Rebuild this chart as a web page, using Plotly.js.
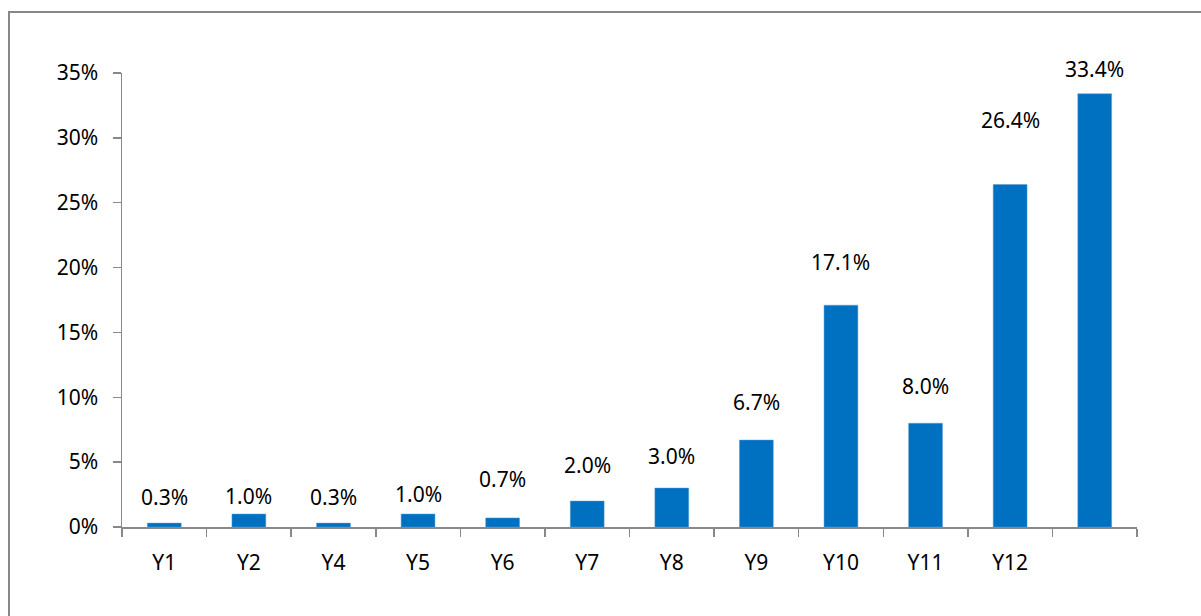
<!DOCTYPE html>
<html>
<head>
<meta charset="utf-8">
<script src="https://cdn.plot.ly/plotly-3.0.1.min.js"></script>
<style>
html,body{margin:0;padding:0;background:#fff;overflow:hidden;}
#chart{position:absolute;left:0;top:0;width:1201px;height:616px;}
#frame{position:absolute;left:8px;top:11px;width:1300px;height:700px;border:2px solid #878787;pointer-events:none;}
</style>
</head>
<body>
<div id="chart"></div>
<div id="frame"></div>
<script>
const categories = ['Y1','Y2','Y4','Y5','Y6','Y7','Y8','Y9','Y10','Y11','Y12',' '];
const values = [0.3, 1.0, 0.3, 1.0, 0.7, 2.0, 3.0, 6.7, 17.1, 8.0, 26.4, 33.4];
const valueLabels = ['0.3%','1.0%','0.3%','1.0%','0.7%','2.0%','3.0%','6.7%','17.1%','8.0%','26.4%','33.4%'];
const labelShift = [26, 18, 26, 20, 39, 36, 32, 38, 43, 37, 65, 25];
const yTicks = [0,5,10,15,20,25,30,35];
const yTickText = ['0%','5%','10%','15%','20%','25%','30%','35%'];

const FONT = 'Noto Sans, sans-serif';
const FS = 21;

const trace = {
  type: 'bar',
  x: categories,
  y: values,
  marker: {color: '#0070C0', line: {color: '#5B9BD5', width: 0.5}},
  hoverinfo: 'none'
};

const annotations = categories.map((c, i) => ({
  x: c, y: values[i], xref: 'x', yref: 'y',
  text: valueLabels[i], showarrow: false,
  yanchor: 'middle', yshift: labelShift[i],
  font: {family: FONT, size: FS, color: '#000'}
}));

const layout = {
  width: 1201, height: 616,
  margin: {l: 122, r: 64, t: 73, b: 89},
  paper_bgcolor: '#fff', plot_bgcolor: '#fff',
  showlegend: false,
  bargap: 0.6,
  font: {family: FONT, size: FS, color: '#000'},
  xaxis: {
    type: 'category',
    tickson: 'boundaries',
    ticks: 'outside', ticklen: 8, tickwidth: 1.5, tickcolor: '#888',
    showline: true, linecolor: '#888', linewidth: 1.5,
    showgrid: false, zeroline: false,
    ticklabelstandoff: 16,
    tickfont: {family: FONT, size: FS, color: '#000'}
  },
  yaxis: {
    range: [0, 35],
    tickvals: yTicks, ticktext: yTickText,
    ticks: 'outside', ticklen: 8, tickwidth: 1.5, tickcolor: '#888',
    showline: true, linecolor: '#888', linewidth: 1.5,
    showgrid: false, zeroline: false,
    ticklabelstandoff: 10,
    tickfont: {family: FONT, size: FS, color: '#000'}
  },
  annotations: annotations
};

Plotly.newPlot('chart', [trace], layout, {displayModeBar: false, staticPlot: true});
</script>
</body>
</html>
